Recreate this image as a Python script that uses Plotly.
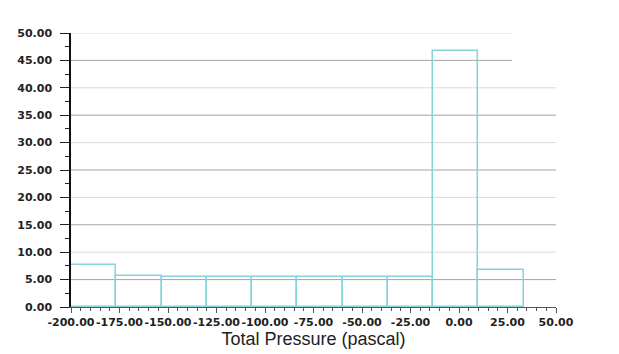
import plotly.graph_objects as go

# Histogram of total pressure: 10 bins of equal width starting at -200 Pa
bin_start = -200.0
bin_width = 70.0 / 3.0
percent = [7.6, 5.7, 5.55, 5.55, 5.5, 5.5, 5.5, 5.5, 46.7, 6.7]

x_ticks = [-200, -175, -150, -125, -100, -75, -50, -25, 0, 25, 50]
x_tick_labels = ["-200.00", "-175.00", "-150.00", "-125.00", "-100.00", "-75.00",
                 "-50.00", "-25.00", "0.00", "25.00", "50.00"]
y_ticks = [0, 5, 10, 15, 20, 25, 30, 35, 40, 45, 50]
y_tick_labels = ["0.00", "5.00", "10.00", "15.00", "20.00", "25.00",
                 "30.00", "35.00", "40.00", "45.00", "50.00"]

centers = [bin_start + bin_width * (i + 0.5) for i in range(len(percent))]

BAR_COLOR = "#84d4d9"
TICK_FONT = dict(family="DejaVu Sans", size=11, color="#222222", weight="bold")

fig = go.Figure()
fig.add_trace(go.Bar(
    x=centers,
    y=percent,
    width=[bin_width] * len(percent),
    marker=dict(color="rgba(0,0,0,0)", line=dict(color=BAR_COLOR, width=1.5)),
    showlegend=False,
    hoverinfo="x+y",
))

# horizontal grid: alternating light / dark lines, the top two cut short
shapes = []
for v in y_ticks[1:]:
    dark = (v % 10) == 5
    x_end = 27.3 if v >= 45 else 50
    shapes.append(dict(
        type="line", xref="x", yref="y", x0=-200, x1=x_end, y0=v, y1=v,
        line=dict(color="#a3a3a3" if dark else "#dadada", width=1),
        layer="below",
    ))

fig.update_layout(
    width=619, height=354, autosize=False,
    margin=dict(l=71, r=63, t=33, b=47),
    paper_bgcolor="white", plot_bgcolor="white",
    bargap=0,
    shapes=shapes,
    xaxis=dict(
        range=[-200, 50], automargin=False, layer="above traces",
        tickvals=x_ticks, ticktext=x_tick_labels,
        tickfont=TICK_FONT, tickangle=0,
        ticks="outside", ticklen=5, tickwidth=1, tickcolor="#555555",
        minor=dict(dtick=5, ticks="outside", ticklen=3, tickcolor="#555555", showgrid=False),
        showline=True, linecolor="#555555", linewidth=1,
        showgrid=False, zeroline=False,
        title=dict(text="Total Pressure (pascal)",
                   font=dict(family="Liberation Sans", size=18, color="#222222"),
                   standoff=2),
    ),
    yaxis=dict(
        range=[0, 50], automargin=False, layer="above traces",
        tickvals=y_ticks, ticktext=y_tick_labels,
        tickfont=TICK_FONT,
        ticks="outside", ticklen=9, tickwidth=1, tickcolor="#222222",
        minor=dict(dtick=2.5, ticks="outside", ticklen=4, tickcolor="#222222", showgrid=False),
        showline=True, linecolor="#111111", linewidth=1.5,
        showgrid=False, zeroline=False,
        ticklabelstandoff=6,
    ),
)

fig.write_html("out.html")
